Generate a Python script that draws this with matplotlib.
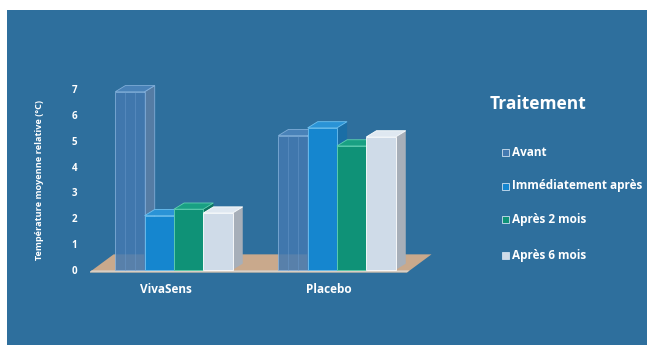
import matplotlib
matplotlib.use("Agg")
import matplotlib.pyplot as plt
from matplotlib.patches import Polygon, Rectangle
import numpy as np

plt.rcParams["font.family"] = ["Open Sans", "DejaVu Sans"]

# data
groups = ["VivaSens", "Placebo"]
series = ["Avant", "Immédiatement après", "Après 2 mois", "Après 6 mois"]
avant = [6.9, 5.2]
immediat = [2.1, 5.5]
deux_mois = [2.35, 4.8]
six_mois = [2.2, 5.15]
y_ticks = [0, 1, 2, 3, 4, 5, 6, 7]
y_label = "Température moyenne relative (°C)"
legend_title = "Traitement"

values = [avant, immediat, deux_mois, six_mois]

# style
BG = "#2e6f9d"
front_colors = ["#4479b0", "#1586cf", "#0f9277", "#cfdbe8"]
side_colors = ["#5d7fa6", "#1a6ea6", "#0c7560", "#a7afb9"]
top_colors = ["#4f86bd", "#2a93d6", "#19a083", "#dfe8f1"]
edge_colors = ["#8ab6e0", "#6cc0f0", "#5fd0b0", "#ffffff"]
bar_w = 0.18
ddx, ddy = 0.062, 0.24

fig = plt.figure(figsize=(6.47, 3.45), dpi=100)
fig.patch.set_facecolor("white")
bg = fig.add_axes([7 / 647, 0, 1, 1 - 10 / 345])
bg.set_facecolor(BG)
bg.set_xticks([])
bg.set_yticks([])
for s in bg.spines.values():
    s.set_visible(False)

ax = fig.add_axes([90 / 647, (345 - 275) / 345, 350 / 647, 191 / 345])
ax.set_xlim(-0.515, 1.632)
ax.set_ylim(-0.2, 7.2)
ax.set_facecolor("none")
for s in ax.spines.values():
    s.set_visible(False)
ax.tick_params(length=0)
ax.set_xticks([])
ax.set_yticks(y_ticks)
ax.set_yticklabels([str(t) for t in y_ticks], color="white", fontsize=7,
                   fontweight="bold")
ax.tick_params(axis="y", pad=9)
ax.plot([-0.53, -0.53], [0, 7], color="#6f9cc4", lw=0.6)

# floor
fl, fr = -0.52, 1.43
ax.add_patch(Polygon([(fl, -0.1), (fr, -0.1), (fr + 0.15, 0.6), (fl + 0.15, 0.6)],
                     closed=True, facecolor="#c9a98c", edgecolor="none", zorder=1))
ax.add_patch(Polygon([(fl, -0.1), (fr, -0.1), (fr + 0.015, -0.02), (fl + 0.015, -0.02)],
                     closed=True, facecolor="#d9cfc4", edgecolor="none", zorder=1))

x = np.arange(len(groups))
for g in range(len(groups)):
    for k, name in enumerate(series):
        v = values[k][g]
        x0 = x[g] + (k - 1.5) * bar_w - bar_w / 2
        x1 = x0 + bar_w
        z = 2 + k
        alpha = 0.85 if k == 0 else 1.0
        ax.add_patch(Polygon([(x1, 0), (x1 + ddx, ddy), (x1 + ddx, v + ddy), (x1, v)],
                             closed=True, facecolor=side_colors[k], alpha=alpha,
                             edgecolor=edge_colors[k] if k == 0 else "none",
                             lw=0.6, zorder=z))
        ax.add_patch(Rectangle((x0, 0), bar_w, v, facecolor=front_colors[k],
                               edgecolor=edge_colors[k], lw=0.6, alpha=alpha, zorder=z))
        ax.add_patch(Polygon([(x0, v), (x1, v), (x1 + ddx, v + ddy), (x0 + ddx, v + ddy)],
                             closed=True, facecolor=top_colors[k],
                             edgecolor=edge_colors[k], lw=0.6, alpha=alpha, zorder=z))
        if k == 0:
            for f in (0.33, 0.66):
                ax.plot([x0 + f * bar_w] * 2, [0, v], color="#6e9fd0", lw=0.5,
                        alpha=0.6, zorder=z)
    ax.text(x[g] - 0.05, -0.5, groups[g], color="white", fontsize=8.5,
            fontweight="bold", ha="center", va="top")

fig.text(40 / 647, 1 - 180 / 345, y_label, rotation=90, color="white",
         fontsize=6.6, fontweight="bold", ha="center", va="center")

# legend
fig.text(490 / 647, 1 - 104 / 345, legend_title, color="white", fontsize=12.5,
         fontweight="bold", ha="left", va="center")
leg_y = [152, 186, 220, 255]
for k, name in enumerate(series):
    yy = 1 - leg_y[k] / 345
    fig.patches.append(Rectangle((502 / 647, yy - 3.5 / 345), 7 / 647, 7 / 345,
                                 transform=fig.transFigure, facecolor=front_colors[k],
                                 edgecolor="#cfe0f0", lw=0.6))
    fig.text(512 / 647, yy, name, color="white", fontsize=8.5, fontweight="bold",
             ha="left", va="center")

fig.savefig("out.png", dpi=100)
